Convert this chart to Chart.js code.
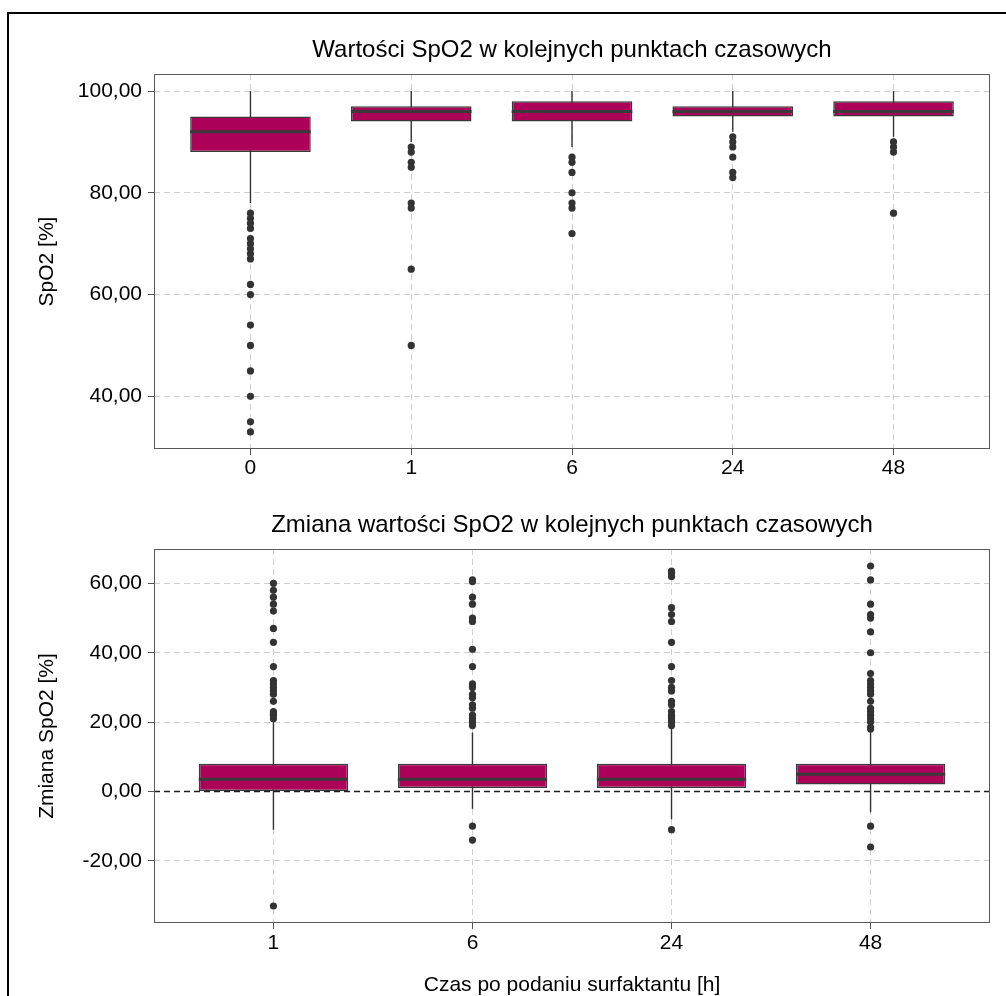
<!DOCTYPE html>
<html lang="pl">
<head>
<meta charset="utf-8">
<title>SpO2 w kolejnych punktach czasowych</title>
<script src="https://cdn.jsdelivr.net/npm/chart.js@4.4.1/dist/chart.umd.min.js"></script>
<style>
  html, body { margin: 0; padding: 0; background: #fff; }
  body { width: 1006px; height: 996px; position: relative; overflow: hidden; }
  #frame { position: absolute; left: 7px; top: 12px; right: -10px; bottom: -10px;
           border-top: 2px solid #000; border-left: 2px solid #000; }
  canvas { position: absolute; left: 0; }
  #spo2Chart { top: 0; }
  #changeChart { top: 500px; }
</style>
</head>
<body>
<div id="frame"></div>
<canvas id="spo2Chart" width="1006" height="500"></canvas>
<canvas id="changeChart" width="1006" height="498"></canvas>
<script>
// SpO2 values at each time point (box-plot summaries + outliers)
const spo2Times = ['0', '1', '6', '24', '48'];
const spo2Low = [78, 90, 89, 92, 91];
const spo2Q1 = [88, 94, 94, 95, 95];
const spo2Median = [92, 96, 96, 96, 96];
const spo2Q3 = [95, 97, 98, 97, 98];
const spo2High = [100, 100, 100, 100, 100];
const spo2Outliers = [
  [76, 75, 74, 73, 71, 70, 69, 68, 67, 62, 60, 54, 50, 45, 40, 35, 33],
  [89, 88, 86, 85, 78, 77, 65, 50],
  [87, 86, 84, 80, 78, 77, 72],
  [91, 90, 89, 87, 84, 83],
  [90, 89, 88, 76]
];
const spo2Ticks = [40, 60, 80, 100];

// Change of SpO2 relative to baseline
const changeTimes = ['1', '6', '24', '48'];
const changeLow = [-11, -5, -8, -6];
const changeQ1 = [0, 1, 1, 2];
const changeMedian = [3.5, 3.5, 3.5, 5];
const changeQ3 = [8, 8, 8, 8];
const changeHigh = [20, 17, 18, 17];
const changeOutliers = [
  [60, 58, 56, 54, 52, 47, 43, 36, 32, 31, 30, 29, 28, 26, 23, 22.5, 22, 21, -33],
  [61, 60.5, 56, 54, 50, 49, 41, 36, 31, 30, 28, 27, 25, 24, 22, 21, 20, 19, -10, -14],
  [63.5, 63, 62, 53, 51, 49, 43, 36, 32, 30, 29, 26, 25, 23, 22, 21.5, 21, 20, 19, -11],
  [65, 61, 54, 51, 50, 46, 40, 34, 32, 31, 30, 29, 28, 26, 24, 23, 22, 21, 20, 18.5, 18, -10, -16]
];
const changeTicks = [-20, 0, 20, 40, 60];

Chart.defaults.font.family = '"Liberation Sans", Arial, Helvetica, sans-serif';
Chart.defaults.color = '#000';

const BOX_FILL = '#ad0059';
const DARK = '#333333';
const GRID = '#cfcfcf';
const BOX_WIDTH = 0.75; // in category units

// Panel frame and optional dashed reference line, drawn from the chart's own scales
const panelDecor = {
  id: 'panelDecor',
  afterDatasetsDraw(chart, args, opts) {
    const { ctx, chartArea: a, scales } = chart;
    ctx.save();
    if (opts.refLine !== null && opts.refLine !== undefined) {
      const py = scales.y.getPixelForValue(opts.refLine);
      ctx.strokeStyle = '#1f1f1f';
      ctx.lineWidth = 1.5;
      ctx.setLineDash([6, 4]);
      ctx.beginPath();
      ctx.moveTo(a.left, py);
      ctx.lineTo(a.right, py);
      ctx.stroke();
    }
    ctx.setLineDash([]);
    ctx.strokeStyle = '#5a5a5a';
    ctx.lineWidth = 1;
    ctx.strokeRect(a.left + 0.5, a.top + 0.5, a.width - 1, a.height - 1);
    ctx.restore();
  }
};

function halfBox(chart) {
  const x = chart.scales && chart.scales.x;
  if (!x) return 0;
  return Math.abs(x.getPixelForValue(BOX_WIDTH / 2) - x.getPixelForValue(0));
}

function valueRange(lists) {
  const all = lists.flat(2);
  const lo = Math.min(...all), hi = Math.max(...all);
  const pad = (hi - lo) * 0.05;
  return [lo - pad, hi + pad];
}

function boxPlot(canvasId, s) {
  const n = s.times.length;
  const [yMin, yMax] = valueRange([s.low, s.high, s.outliers]);
  const outlierPts = s.outliers.flatMap((vals, i) => vals.map(v => ({ x: i, y: v })));
  const medianPts = s.median.map((m, i) => ({ x: i, y: m }));
  const boxPts = s.q1.map((q, i) => ({ x: i, y: [q, s.q3[i]] }));
  const whiskerPts = s.low.map((l, i) => ({ x: i, y: [l, s.high[i]] }));

  const gridOpts = { color: GRID, lineWidth: 1, offset: false, tickLength: 6,
                     tickColor: '#555', tickWidth: 1, drawTicks: true };

  return new Chart(document.getElementById(canvasId), {
    type: 'bar',
    data: {
      datasets: [
        { type: 'line', label: 'outliers', data: outlierPts, showLine: false,
          pointRadius: 3.6, pointBackgroundColor: DARK, pointBorderWidth: 0, order: 0 },
        { type: 'line', label: 'median', data: medianPts, showLine: false,
          pointStyle: 'line', pointRadius: ctx => halfBox(ctx.chart),
          pointBorderColor: '#3a3a3a', pointBorderWidth: 3, order: 1 },
        { type: 'bar', label: 'box', data: boxPts, grouped: false,
          categoryPercentage: 1, barPercentage: BOX_WIDTH,
          backgroundColor: BOX_FILL, borderColor: '#3a3a3a', borderWidth: 1.5,
          borderSkipped: false, order: 2 },
        { type: 'bar', label: 'whisker', data: whiskerPts, grouped: false,
          maxBarThickness: 1.4, inflateAmount: 0, backgroundColor: DARK,
          borderWidth: 0, order: 3 }
      ]
    },
    options: {
      responsive: false,
      animation: false,
      devicePixelRatio: 1,
      layout: { padding: { left: 0, right: 16, top: 0, bottom: 0 } },
      plugins: {
        legend: { display: false },
        tooltip: { enabled: false },
        title: { display: true, text: s.title, fullSize: false, color: '#000',
                 font: { size: 24, weight: 'normal' }, padding: s.titlePad },
        panelDecor: { refLine: s.refLine }
      },
      scales: {
        x: {
          type: 'linear', min: -0.6, max: n - 1 + 0.6, offset: false,
          afterBuildTicks: sc => { sc.ticks = s.times.map((_, i) => ({ value: i })); },
          afterFit: sc => { sc.height = s.xAxisHeight; },
          grid: gridOpts,
          border: { display: false, dash: [6, 4] },
          ticks: { color: '#000', font: { size: 21 }, padding: s.xTickPad,
                   autoSkip: false, maxRotation: 0,
                   callback: (v, i) => s.times[i] },
          title: s.xTitle
            ? { display: true, text: s.xTitle, color: '#000', font: { size: 21 },
                padding: { top: 0, bottom: 0 } }
            : { display: false }
        },
        y: {
          min: yMin, max: yMax,
          afterBuildTicks: sc => { sc.ticks = s.ticks.map(v => ({ value: v })); },
          afterFit: sc => { sc.width = 154; },
          grid: gridOpts,
          border: { display: false, dash: [6, 4] },
          ticks: { color: '#000', font: { size: 21 }, padding: 6,
                   callback: v => v.toFixed(2).replace('.', ',') },
          title: { display: true, text: s.yTitle, color: '#000', font: { size: 21 },
                   padding: { top: 34.4, bottom: 0 } }
        }
      }
    },
    plugins: [panelDecor]
  });
}

boxPlot('spo2Chart', {
  times: spo2Times, low: spo2Low, q1: spo2Q1, median: spo2Median, q3: spo2Q3,
  high: spo2High, outliers: spo2Outliers, ticks: spo2Ticks,
  title: 'Wartości SpO2 w kolejnych punktach czasowych',
  yTitle: 'SpO2 [%]', xTitle: null, refLine: null,
  titlePad: { top: 35.6, bottom: 9.6 }, xAxisHeight: 51, xTickPad: 1
});

boxPlot('changeChart', {
  times: changeTimes, low: changeLow, q1: changeQ1, median: changeMedian, q3: changeQ3,
  high: changeHigh, outliers: changeOutliers, ticks: changeTicks,
  title: 'Zmiana wartości SpO2 w kolejnych punktach czasowych',
  yTitle: 'Zmiana SpO2 [%]', xTitle: 'Czas po podaniu surfaktantu [h]', refLine: 0,
  titlePad: { top: 10.6, bottom: 9.6 }, xAxisHeight: 75, xTickPad: 2
});
</script>
</body>
</html>
